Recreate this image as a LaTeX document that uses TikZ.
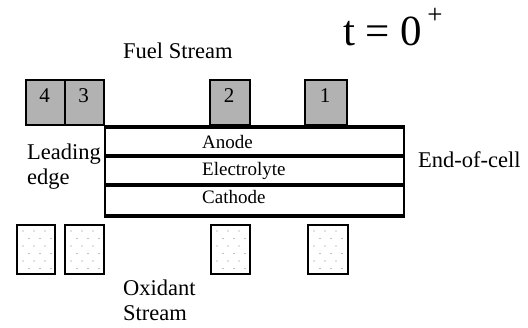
\documentclass[tikz,border=0pt]{standalone}
\usepackage{fontspec}
\setmainfont{Liberation Serif}
\begin{document}
\begin{tikzpicture}[x=1pt,y=-1pt,
  lbl/.style={inner sep=0pt,font=\fontsize{22.5}{27}\selectfont},
  lyr/.style={inner sep=0pt,font=\fontsize{19}{23}\selectfont,anchor=base west},
  digit/.style={inner sep=0pt,font=\fontsize{21}{25}\selectfont,anchor=base},
  topbox/.style={draw,line width=1.6pt,fill=gray!60,anchor=north west,inner sep=0pt,minimum height=45pt},
  botbox/.style={draw,line width=1.6pt,fill=white,anchor=north west,inner sep=0pt,minimum height=49pt},
  thickline/.style={line width=3.4pt},
  dotc/.style={fill=gray}]
\useasboundingbox (0,0) rectangle (528,327);
% title
\node[lbl,anchor=base west,font=\fontsize{43}{50}\selectfont] (title) at (343,45) {t = 0\kern5pt\raisebox{22pt}{\fontsize{27}{27}\selectfont +}};
\node[lbl,anchor=base west] (fuel) at (123,58) {Fuel Stream};
% top boxes
\node[topbox,minimum width=39pt] (b4) at (25,79) {};
\node[topbox,minimum width=39pt] (b3) at (64,79) {};
\node[topbox,minimum width=40pt] (b2) at (209,79) {};
\node[topbox,minimum width=42pt] (b1) at (304,79) {};
\node[digit] (d4) at (44.5,102) {4};
\node[digit] (d3) at (83.5,102) {3};
\node[digit] (d2) at (229,102) {2};
\node[digit] (d1) at (325,102) {1};
% cell
\node[draw,line width=2pt,anchor=north west,inner sep=0pt,minimum width=299pt,minimum height=87pt] (cell) at (104,127) {};
\coordinate (l1w) at (104,156); \coordinate (l1e) at (403,156);
\coordinate (l2w) at (104,185); \coordinate (l2e) at (403,185);
\draw[thickline] (cell.north west) -- (cell.north east);
\draw[thickline] (l1w) -- (l1e);
\draw[thickline] (l2w) -- (l2e);
\draw[thickline] (cell.south west) -- (cell.south east);
\node[lyr] (anode) at (202,148) {Anode};
\node[lyr] (elec) at (202,175) {Electrolyte};
\node[lyr] (cath) at (202,203) {Cathode};
% side labels
\node[lbl,anchor=base west] (lead1) at (27,159) {Leading};
\node[lbl,anchor=base west] (lead2) at (27,184) {edge};
\node[lbl,anchor=base west] (end) at (418,167) {End-of-cell};
% bottom boxes
\node[botbox,minimum width=38pt] (o1) at (16,224) {};
\node[botbox,minimum width=39pt] (o2) at (64,224) {};
\node[botbox,minimum width=39pt] (o3) at (210,224) {};
\node[botbox,minimum width=40pt] (o4) at (307,224) {};
\foreach \bx in {16,64,210,307}{
  \foreach \r in {0,...,5}{
    \pgfmathsetmacro{\yy}{231+7.5*\r}
    \pgfmathsetmacro{\off}{mod(\r,2)*6}
    \foreach \c in {0,1,2}{
      \pgfmathsetmacro{\xx}{\bx+7+\off+11*\c}
      \ifdim\xx pt<\dimexpr\bx pt+36pt\relax
        \fill[dotc] (\xx,\yy) circle (0.7pt);
      \fi
    }
  }
}
\node[lbl,anchor=base west] (ox1) at (123,295) {Oxidant};
\node[lbl,anchor=base west] (ox2) at (123,320) {Stream};
\end{tikzpicture}
\end{document}
